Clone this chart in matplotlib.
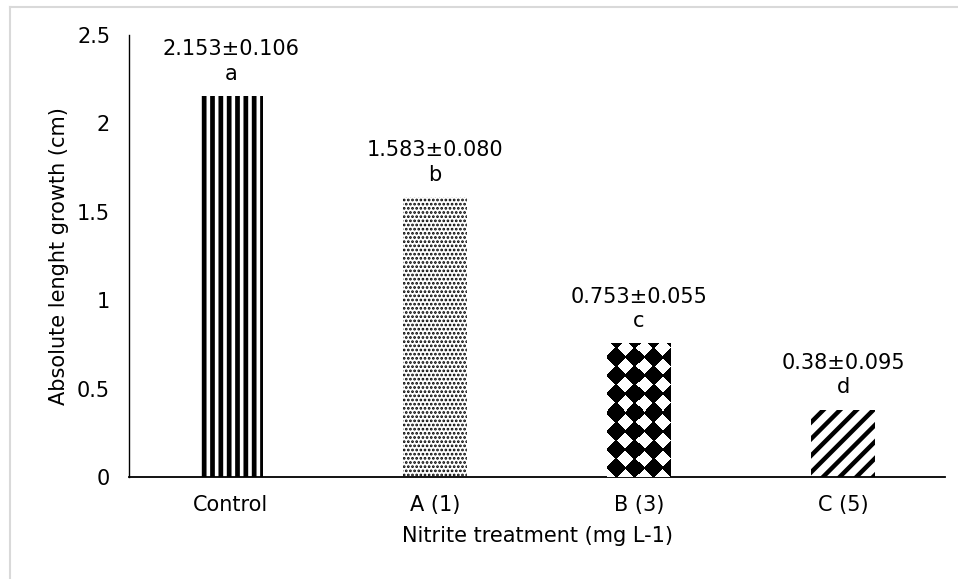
import matplotlib.pyplot as plt
import numpy as np
from matplotlib.lines import Line2D

# data
treatments = ['Control', 'A (1)', 'B (3)', 'C (5)']
growth_mean = [2.153, 1.583, 0.753, 0.38]
mean_text = ['2.153', '1.583', '0.753', '0.38']
se_text = ['0.106', '0.080', '0.055', '0.095']
groups = ['a', 'b', 'c', 'd']
y_ticks = [0, 0.5, 1, 1.5, 2, 2.5]
y_ticklabels = ['0', '0.5', '1', '1.5', '2', '2.5']

# bar fill styles (B gets a diamond texture drawn below)
hatches = ['||', '....', None, '//']
hatch_widths = [3.4, 1.3, 1.0, 3.2]

plt.rcParams['font.family'] = ['DejaVu Sans']
plt.rcParams['font.size'] = 15

W, H = 958, 579
fig = plt.figure(figsize=(W / 100, H / 100), dpi=100)
ax = fig.add_axes([129 / W, 1 - 477 / H, (945 - 129) / W, (477 - 35) / H])

x = np.arange(len(treatments))
bars = ax.bar(x, growth_mean, width=0.31, color='white', edgecolor='black',
              linewidth=0, zorder=2)
for b, h, lw in zip(bars, hatches, hatch_widths):
    if h:
        b.set_hatch(h)
        if hasattr(b, 'set_hatch_linewidth'):
            b.set_hatch_linewidth(lw)

ax.set_xlim(-0.5, len(treatments) - 0.5)
ax.set_ylim(0, 2.5)
ax.set_xticks(x)
ax.set_xticklabels(treatments)
ax.set_yticks(y_ticks)
ax.set_yticklabels(y_ticklabels)
ax.tick_params(axis='both', length=0)
ax.tick_params(axis='y', pad=13.5)
ax.tick_params(axis='x', pad=13)
for s in ['top', 'right']:
    ax.spines[s].set_visible(False)
ax.spines['left'].set_linewidth(1.0)
ax.spines['bottom'].set_linewidth(1.3)

ax.set_xlabel('Nitrite treatment (mg L-1)', labelpad=8)
ax.set_ylabel('Absolute lenght growth (cm)', labelpad=6)

for xi, m, mt, se, g in zip(x, growth_mean, mean_text, se_text, groups):
    ax.annotate(f'{mt}\u00b1{se}\n{g}', xy=(xi, m), xytext=(0, 9),
                textcoords='offset points', ha='center', va='bottom',
                linespacing=1.3)

# diamond checker texture for bar B, built in pixel space
fig.canvas.draw()
bb = bars[2].get_window_extent()
w, h = int(round(bb.width)), int(round(bb.height))
p = 18.3
yy, xx = np.indices((h, w)) + 0.5
u = np.mod(xx, p) - p / 2
v = np.mod(h - yy, p) - p / 2
black = (np.abs(u) + np.abs(v)) < 0.56 * p
tex = np.where(black, 0.0, 1.0)
bx = bars[2].get_x()
ax.imshow(tex, cmap='gray', vmin=0, vmax=1, interpolation='nearest',
          extent=(bx, bx + bars[2].get_width(), 0, growth_mean[2]),
          aspect='auto', zorder=3)
ax.set_xlim(-0.5, len(treatments) - 0.5)
ax.set_ylim(0, 2.5)

# light chart-area border
fig.add_artist(Line2D([10 / W, 10 / W], [0, 1 - 7 / H], color='#d9d9d9',
                      lw=1.5, transform=fig.transFigure))
fig.add_artist(Line2D([10 / W, 1], [1 - 7 / H, 1 - 7 / H], color='#d9d9d9',
                      lw=1.5, transform=fig.transFigure))

fig.savefig('out.png', dpi=100)
